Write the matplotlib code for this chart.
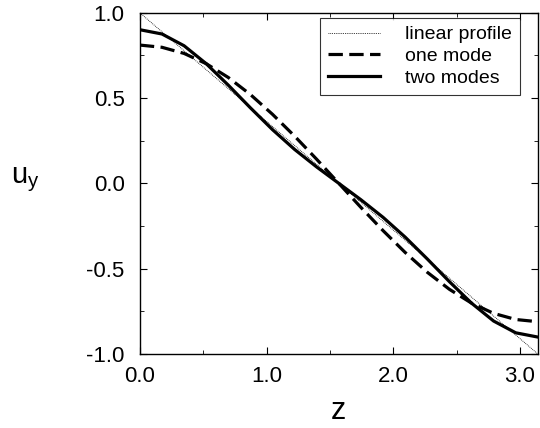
import numpy as np
import matplotlib
matplotlib.use("Agg")
import matplotlib.pyplot as plt
from matplotlib.ticker import MultipleLocator

plt.rcParams['font.family'] = ['Liberation Sans', 'DejaVu Sans']

# z sample points (~0.1745 spacing)
z = [0.0, 0.1745, 0.3491, 0.5236, 0.6981, 0.8727, 1.0472, 1.2217, 1.3963, 1.5708,
     1.7453, 1.9199, 2.0944, 2.2689, 2.4435, 2.6180, 2.7925, 2.9671, 3.1416]
one_mode = [0.811, 0.798, 0.762, 0.702, 0.621, 0.521, 0.405, 0.277, 0.141, 0.0,
            -0.141, -0.277, -0.405, -0.521, -0.621, -0.702, -0.762, -0.798, -0.811]
two_modes = [0.901, 0.876, 0.807, 0.702, 0.576, 0.443, 0.315, 0.199, 0.096, 0.0,
             -0.096, -0.199, -0.315, -0.443, -0.576, -0.702, -0.807, -0.876, -0.901]
lin_z = [0.0, 3.1416]
lin_u = [1.0, -1.0]

fig = plt.figure(figsize=(5.4, 4.28), dpi=100)
ax = fig.add_axes([0.259, 0.173, 0.737, 0.797])

ax.plot(lin_z, lin_u, color='black', lw=0.6, ls=(0, (1, 1.2)), label='linear profile')
ax.plot(z, one_mode, color='black', lw=2.3, ls=(0, (4.5, 2)), label='one mode')
ax.plot(z, two_modes, color='black', lw=2.3, ls='-', label='two modes')

ax.set_xlim(0, 3.1416)
ax.set_ylim(-1.0, 1.0)
ax.set_xticks([0.0, 1.0, 2.0, 3.0])
ax.set_xticklabels(['0.0', '1.0', '2.0', '3.0'])
ax.set_yticks([-1.0, -0.5, 0.0, 0.5, 1.0])
ax.set_yticklabels(['-1.0', '-0.5', '0.0', '0.5', '1.0'])
ax.xaxis.set_minor_locator(MultipleLocator(0.5))
ax.yaxis.set_minor_locator(MultipleLocator(0.25))
ax.tick_params(which='both', direction='in', top=True, right=True, labelsize=16)
ax.tick_params(which='major', length=5)
ax.tick_params(axis='x', which='major', pad=9)
ax.tick_params(axis='y', which='major', pad=11)
ax.tick_params(which='minor', length=3)
for s in ax.spines.values():
    s.set_linewidth(1.0)

ax.set_xlabel('z', fontsize=22, labelpad=6)
ax.set_ylabel(r'u$_\mathregular{y}$', fontsize=21, rotation=0, ha='left', va='center')
ax.yaxis.set_label_coords(-0.325, 0.51)

leg = ax.legend(loc='upper right', bbox_to_anchor=(0.955, 0.985), fontsize=14,
                frameon=True, fancybox=False, edgecolor='black',
                handlelength=2.7, borderpad=0.4, labelspacing=0.22,
                handletextpad=1.3, borderaxespad=0.0)
leg.get_frame().set_linewidth(0.8)

fig.savefig('out.png', dpi=100)
